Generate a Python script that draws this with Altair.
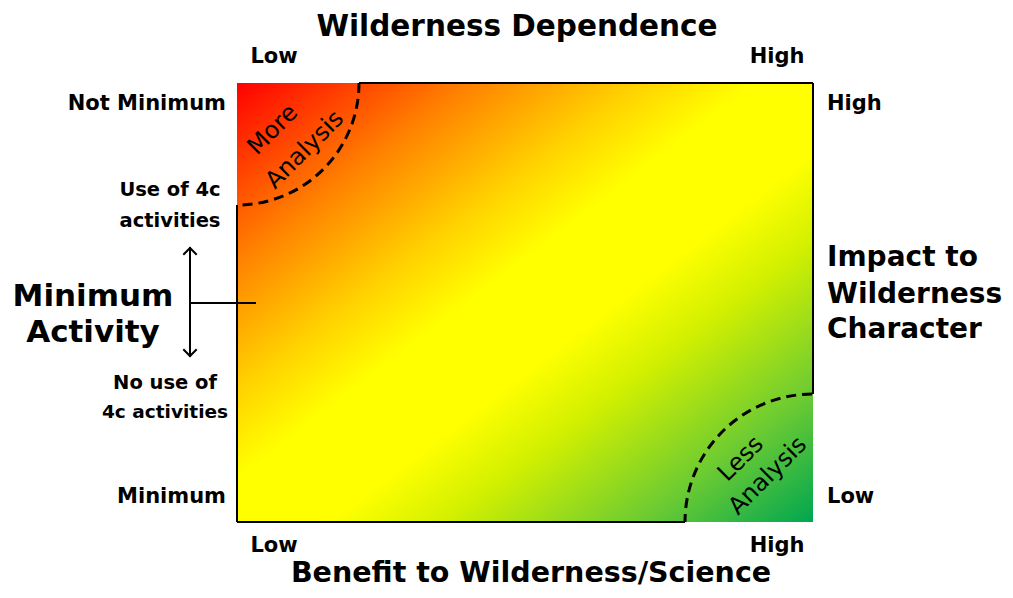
import altair as alt
import pandas as pd

# ---- content ----
title_top = "Wilderness Dependence"
title_bottom = "Benefit to Wilderness/Science"
right_title = ["Impact to", "Wilderness", "Character"]
left_title = ["Minimum", "Activity"]
low_high = ["Low", "High"]
left_ticks = ["Not Minimum", "Minimum"]
use_lines = ["Use of 4c", "activities"]
nouse_lines = ["No use of", "4c activities"]
more_lines = ["More", "Analysis"]
less_lines = ["Less", "Analysis"]

# quadrant extent (normalised benefit / impact scale)
extent_x = [0, 1]
extent_y = [0, 1]
# analysis corners: (benefit, impact)
corner_x = [0, 1]
corner_y = [1, 0]

W, H = 576, 439
FONT = "DejaVu Sans"

stops = [
    alt.GradientStop(offset=0.0, color="#FF0000"),
    alt.GradientStop(offset=0.2, color="#FF8000"),
    alt.GradientStop(offset=0.35, color="#FFD200"),
    alt.GradientStop(offset=0.45, color="#FFFF00"),
    alt.GradientStop(offset=0.58, color="#FFFF00"),
    alt.GradientStop(offset=0.68, color="#D2F000"),
    alt.GradientStop(offset=0.85, color="#6CCB32"),
    alt.GradientStop(offset=1.0, color="#00A651"),
]

xs = alt.Scale(domain=[0, 1], nice=False, zero=False)
ys = alt.Scale(domain=[0, 1], nice=False, zero=False)

rect_df = pd.DataFrame({"x": [extent_x[0]], "x2": [extent_x[1]],
                        "y": [extent_y[0]], "y2": [extent_y[1]]})
rect = alt.Chart(rect_df).mark_rect(
    fill=alt.Gradient(gradient="linear", stops=stops, x1=0, y1=0, x2=1, y2=1)
).encode(
    x=alt.X("x:Q", scale=xs, axis=None), x2="x2:Q",
    y=alt.Y("y:Q", scale=ys, axis=None), y2="y2:Q",
)

corner_df = pd.DataFrame({"x": corner_x, "y": corner_y})
circles_tl = alt.Chart(corner_df.iloc[[0]]).mark_point(
    shape="circle", filled=False, clip=True, stroke="black",
    strokeWidth=3, strokeDash=[10, 6], opacity=1, size=244 ** 2
).encode(x=alt.X("x:Q", scale=xs, axis=None), y=alt.Y("y:Q", scale=ys, axis=None))
circles_br = alt.Chart(corner_df.iloc[[1]]).mark_point(
    shape="circle", filled=False, clip=True, stroke="black",
    strokeWidth=3, strokeDash=[10, 6], opacity=1, size=256 ** 2
).encode(x=alt.X("x:Q", scale=xs, axis=None), y=alt.Y("y:Q", scale=ys, axis=None))

base = alt.Chart(pd.DataFrame({"a": [0]}))


def seg(x1, y1, x2, y2, w=2):
    return base.mark_rule(color="black", strokeWidth=w).encode(
        x=alt.value(x1), y=alt.value(y1), x2=alt.value(x2), y2=alt.value(y2))


border = [
    seg(122, 0, W, 0),
    seg(0, 122, 0, H),
    seg(0, H, W - 128, H),
    seg(W, 0, W, H - 128),
]


def txt(s, x, y, size=21, align="center", weight="bold", angle=0):
    kw = dict(text=s, font=FONT, fontSize=size, fontWeight=weight,
              align=align, baseline="middle", color="black")
    if angle:
        kw["angle"] = angle
    return base.mark_text(**kw).encode(x=alt.value(x), y=alt.value(y))


texts = [
    txt(title_top, 280, -56, size=29.5),
    txt(low_high[0], 37, -26), txt(low_high[1], 540, -26),
    txt(left_ticks[0], -11, 21, align="right"),
    txt(use_lines[0], -67, 107, size=19.5), txt(use_lines[1], -67, 138, size=19.5),
    txt(left_title[0], -144, 214, size=31), txt(left_title[1], -144, 250, size=31),
    txt(nouse_lines[0], -72, 300, size=19.5), txt(nouse_lines[1], -72, 329, size=18.5),
    txt(left_ticks[1], -11, 414, align="right"),
    txt(low_high[1], 590, 21, align="left"),
    txt(right_title[0], 590, 175, size=28, align="left"),
    txt(right_title[1], 590, 212, size=28, align="left"),
    txt(right_title[2], 590, 247, size=28, align="left"),
    txt(low_high[0], 590, 414, align="left"),
    txt(low_high[0], 37, 463), txt(low_high[1], 540, 463),
    txt(title_bottom, 294, 490, size=28.5),
    txt(more_lines[0], 36, 47, size=24, weight="normal", angle=315),
    txt(more_lines[1], 68, 67, size=24, weight="normal", angle=315),
    txt(less_lines[0], 504, 376, size=24, weight="normal", angle=315),
    txt(less_lines[1], 531, 393, size=24, weight="normal", angle=315),
]

arrows = [
    seg(-47, 164, -47, 274, w=2),
    seg(-47, 220, 19, 220, w=2),
    base.mark_point(shape="M-1,1 L0,0 L1,1", filled=False, stroke="black",
                    strokeWidth=2, size=180, opacity=1).encode(
        x=alt.value(-47), y=alt.value(165)),
    base.mark_point(shape="M-1,-1 L0,0 L1,-1", filled=False, stroke="black",
                    strokeWidth=2, size=180, opacity=1).encode(
        x=alt.value(-47), y=alt.value(273)),
]

chart = alt.layer(rect, circles_tl, circles_br, *border, *arrows, *texts).properties(
    width=W, height=H,
    autosize=alt.AutoSizeParams(type="none"),
    padding={"left": 229, "top": 75, "right": 192, "bottom": 68},
    background="white",
).configure_view(stroke=None)

chart.save("out.html", embed_options={"renderer": "svg", "actions": False})
